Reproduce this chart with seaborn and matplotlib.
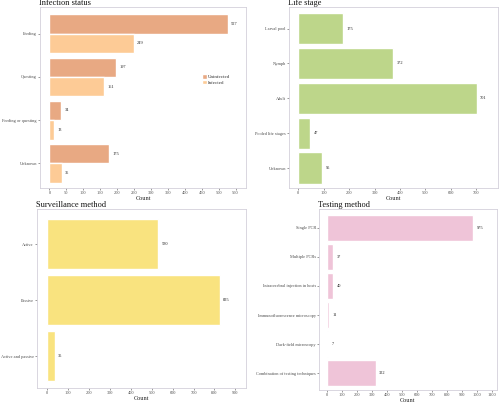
import matplotlib
matplotlib.use("Agg")
import matplotlib.pyplot as plt
import seaborn as sns
import pandas as pd

sns.set_theme(style="white")
plt.rcParams['font.family'] = ['Liberation Serif', 'DejaVu Serif']

# ---- data ----
inf_categories = ["Feeding", "Questing", "Feeding or questing", "Unknown"]
inf_uninfected = [527, 197, 34, 175]
inf_infected = [249, 161, 13, 36]

life_categories = ["Larval pool", "Nymph", "Adult", "Pooled life stages", "Unknown"]
life_counts = [175, 372, 701, 47, 95]

surv_categories = ["Active", "Passive", "Active and passive"]
surv_counts = [530, 825, 35]

test_categories = ["Single PCR", "Multiple PCRs", "Intracerebral injection in hosts",
                   "Immunofluorescence microscopy", "Dark\u2010field microscopy",
                   "Combination of testing techniques"]
test_counts = [975, 37, 40, 11, 7, 322]

C_UNINF = "#E8A983"
C_INF = "#FDCB96"
C_LIFE = "#BDD68A"
C_SURV = "#F9E37F"
C_TEST = "#EFC4D8"
FRAME = "#D3D0DA"
TXT = "#4D4D4D"

fig = plt.figure(figsize=(5.0, 4.04), dpi=100)

def style(ax, title, xticks, xlim, ylim):
    ax.set_xlim(*xlim)
    ax.set_ylim(*ylim)
    ax.set_xticks(xticks)
    ax.set_xticklabels([str(t) for t in xticks])
    ax.set_xlabel("Count", fontsize=4.5, color="#222222", labelpad=0.8)
    ax.set_ylabel("")
    ax.tick_params(axis="both", labelsize=3.2, colors=TXT, length=1.5, width=0.4,
                   direction="out", pad=0.7, bottom=True, left=True)
    for s in ax.spines.values():
        s.set_color(FRAME)
        s.set_linewidth(0.6)
    ax.set_title(title, loc="left", fontsize=6, color="#111111", pad=1.5, x=-0.005)

def labels(ax):
    for c in ax.containers:
        ax.bar_label(c, fmt="%d", padding=2.5, fontsize=3.2, color="#222222")

# ---- Infection status ----
ax1 = fig.add_axes([0.08, 0.5347, 0.412, 0.448])
df1 = pd.DataFrame({
    "cat": inf_categories * 2,
    "count": inf_uninfected + inf_infected,
    "status": ["Uninfected"] * len(inf_categories) + ["Infected"] * len(inf_categories),
})
sns.barplot(data=df1, y="cat", x="count", hue="status", orient="h", ax=ax1,
            palette=[C_UNINF, C_INF], saturation=1, width=0.9, order=inf_categories,
            hue_order=["Uninfected", "Infected"])
labels(ax1)
style(ax1, "Infection status", list(range(0, 551, 50)), (-28, 581), (3.57, -0.62))
leg = ax1.legend(loc="center left", bbox_to_anchor=(0.765, 0.6), frameon=False,
                 fontsize=3.6, handlelength=0.9, handleheight=1.0, handletextpad=0.3,
                 labelspacing=0.1, title=None)
for t in leg.get_texts():
    t.set_color("#333333")

# ---- Life stage ----
ax2 = fig.add_axes([0.578, 0.5347, 0.418, 0.448])
df2 = pd.DataFrame({"cat": life_categories, "count": life_counts})
sns.barplot(data=df2, y="cat", x="count", orient="h", ax=ax2, color=C_LIFE,
            saturation=1, width=0.9, order=life_categories)
labels(ax2)
style(ax2, "Life stage", list(range(0, 701, 100)), (-36, 785), (4.57, -0.62))

# ---- Surveillance method ----
ax3 = fig.add_axes([0.074, 0.0396, 0.418, 0.443])
df3 = pd.DataFrame({"cat": surv_categories, "count": surv_counts})
sns.barplot(data=df3, y="cat", x="count", orient="h", ax=ax3, color=C_SURV,
            saturation=1, width=0.9, order=surv_categories)
labels(ax3)
style(ax3, "Surveillance method", list(range(0, 901, 100)), (-49, 951), (2.57, -0.63))

# ---- Testing method ----
ax4 = fig.add_axes([0.638, 0.0347, 0.356, 0.448])
df4 = pd.DataFrame({"cat": test_categories, "count": test_counts})
sns.barplot(data=df4, y="cat", x="count", orient="h", ax=ax4, color=C_TEST,
            saturation=1, width=0.9, order=test_categories)
labels(ax4)
style(ax4, "Testing method", list(range(0, 1101, 100)), (-56, 1134), (5.58, -0.65))

fig.savefig("out.png", dpi=100)
